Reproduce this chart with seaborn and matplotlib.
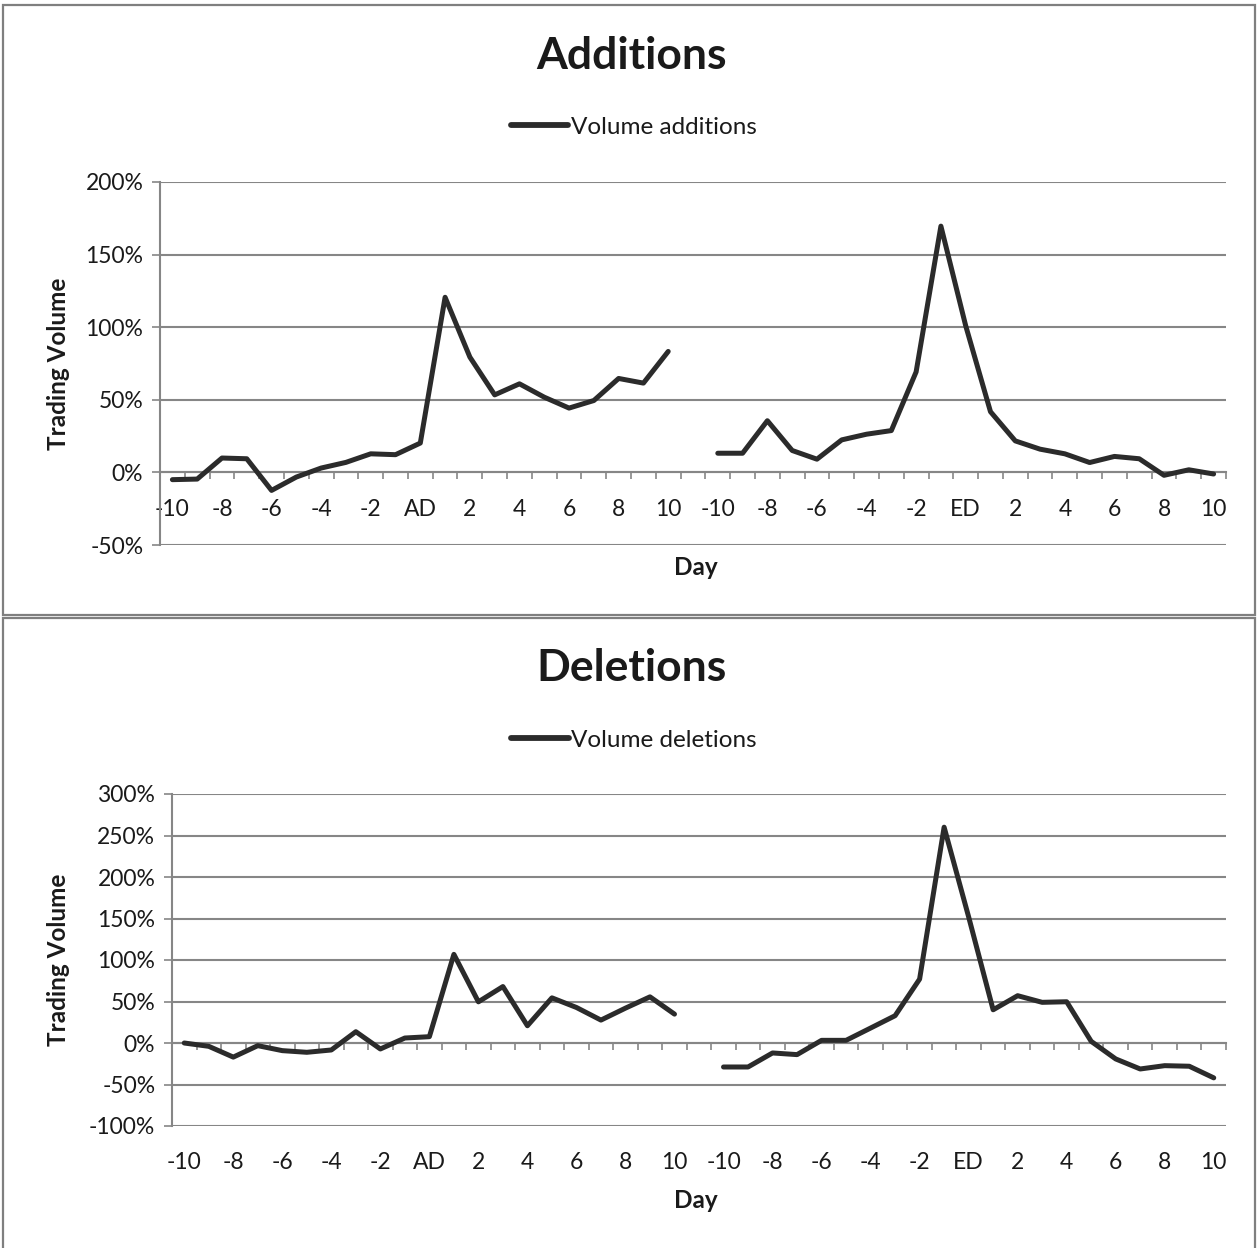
import numpy as np
import pandas as pd
import matplotlib
matplotlib.use("Agg")
import matplotlib.pyplot as plt
import seaborn as sns
from matplotlib.lines import Line2D
from matplotlib.patches import Rectangle
from matplotlib.ticker import FixedLocator, FuncFormatter

# -------------------- DATA --------------------
days_ad = [str(d) for d in range(-10, 0)] + ["AD"] + [str(d) for d in range(1, 11)]
days_ed = [str(d) for d in range(-10, 0)] + ["ED"] + [str(d) for d in range(1, 11)]

# trading volume (%), around announcement date (AD) and effective date (ED)
add_ad = [-5, -4.6, 9.9, 9.4, -12.4, -3.2, 3, 6.9, 12.8, 12.2, 20.2,
          120.6, 79.4, 53.4, 61, 51.8, 44.3, 49.5, 64.7, 61.5, 83.3]
add_ed = [13.2, 13.2, 35.6, 15.1, 9.1, 22.4, 26.3, 28.8, 69.2, 169.6, 101,
          41.8, 21.7, 16, 12.8, 6.8, 11, 9.4, -2, 1.8, -1.1]
del_ad = [0, -4, -17, -3.2, -9.2, -11.2, -8.4, 13.6, -7.2, 6, 7.6,
          106.8, 49.6, 68, 20.8, 54.4, 42.8, 27.6, 42, 55.6, 34.8]
del_ed = [-28.9, -28.9, -12, -14, 3.2, 3.2, 18, 32.9, 77, 260, 152,
          40, 57, 49, 49.7, 2, -19.2, -31.3, -27.3, -28, -42]

panels = [
    ("Additions", "Volume additions", add_ad, add_ed, (-50, 200)),
    ("Deletions", "Volume deletions", del_ad, del_ed, (-100, 300)),
]

# -------------------- STYLE --------------------
sns.set_style("white")
plt.rcParams["font.family"] = ["Lato", "DejaVu Sans"]
LINE = "#2b2b2b"
GRID = "#868686"
TXT = "#1a1a1a"

W, H = 1257, 1248
fig = plt.figure(figsize=(W / 100, H / 100), dpi=100)

# axes boxes in pixels: left, top, right, bottom
boxes = [(160, 182, 1226, 545), (172, 794, 1226, 1126)]
title_y = [56, 668]
legend_y = [127, 740]
xlabel_top = [556, 1189]
label_pad = [19, 19 + (1126 - 1043) / 1.389]
panel_frames = [(5, 615), (618, 1252)]


def to_fig(x, y):
    return x / W, 1 - y / H


for i, (title, leg, seg1, seg2, ylim) in enumerate(panels):
    l, t, r, b = boxes[i]
    ax = fig.add_axes([l / W, 1 - b / H, (r - l) / W, (b - t) / H])

    n = len(seg1)
    df = pd.DataFrame({
        "pos": list(range(n)) + list(range(n + 1, 2 * n + 1)),
        "value": seg1 + seg2,
        "segment": ["AD"] * n + ["ED"] * n,
    })
    sns.lineplot(data=df, x="pos", y="value", units="segment", estimator=None,
                 color=LINE, lw=3.6, solid_joinstyle="round",
                 solid_capstyle="round", legend=False, ax=ax, zorder=3)

    labels = days_ad + [""] + days_ed
    ax.set_xlim(-0.5, len(labels) - 0.5)
    ax.set_ylim(*ylim)

    # x axis crosses at zero, tick marks between categories
    ax.spines["bottom"].set_position(("data", 0))
    ax.spines["bottom"].set_color(GRID)
    ax.spines["bottom"].set_linewidth(1.5)
    ax.spines["left"].set_color(GRID)
    ax.spines["left"].set_linewidth(1.5)
    ax.spines["top"].set_visible(False)
    ax.spines["right"].set_visible(False)

    major = list(range(0, len(labels), 2))
    ax.xaxis.set_major_locator(FixedLocator(major))
    ax.set_xticklabels([labels[k] for k in major])
    ax.xaxis.set_minor_locator(FixedLocator(np.arange(-0.5, len(labels), 1)))
    ax.tick_params(axis="x", which="major", length=0, pad=label_pad[i],
                   labelsize=16.5, labelcolor=TXT)
    ax.tick_params(axis="x", which="minor", length=5, width=1.2,
                   color=GRID, direction="out", bottom=True)

    ax.set_yticks(np.arange(ylim[0], ylim[1] + 1, 50))
    ax.yaxis.set_major_formatter(FuncFormatter(lambda v, p: f"{v:.0f}%"))
    ax.tick_params(axis="y", length=6, width=1.2, color=GRID, left=True,
                   labelsize=16.5, labelcolor=TXT, pad=6)
    ax.yaxis.grid(True, color=GRID, lw=1.5)
    ax.set_axisbelow(True)

    ax.set_ylabel("Trading Volume", fontsize=17.5, fontweight="bold", color=TXT)
    ax.yaxis.set_label_coords((70 - l) / (r - l), 0.5)
    ax.set_xlabel("Day", fontsize=17.5, fontweight="bold", color=TXT)
    ax.xaxis.set_label_coords((696 - l) / (r - l), (b - xlabel_top[i]) / (b - t))

    fx, fy = to_fig(631, title_y[i])
    fig.text(fx, fy, title, fontsize=32, fontweight="bold", color=TXT,
             ha="center", va="center")

    handle = Line2D([], [], color=LINE, lw=4.2, solid_capstyle="round")
    lx, ly = to_fig(634, legend_y[i])
    ax.legend([handle], [leg], loc="center", bbox_to_anchor=(lx, ly),
              bbox_transform=fig.transFigure, frameon=False, fontsize=17.5,
              handlelength=2.35, handletextpad=0.1, labelcolor=TXT)

    y0, y1 = panel_frames[i]
    fig.patches.append(Rectangle(to_fig(3, y1), (1255 - 3) / W, (y1 - y0) / H,
                                 transform=fig.transFigure, fill=False,
                                 edgecolor="#7f7f7f", lw=1.6))

plt.savefig("out.png", dpi=100)
plt.close()
